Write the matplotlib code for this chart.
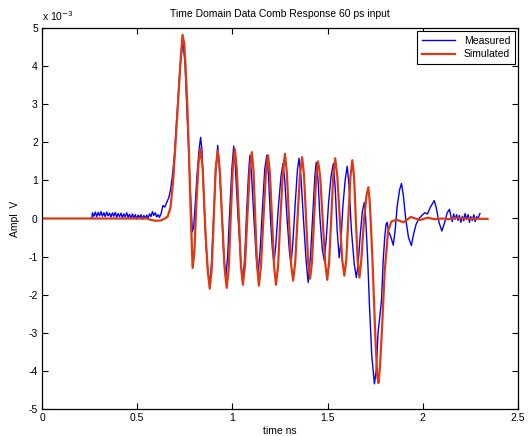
import matplotlib
matplotlib.use("Agg")
import matplotlib.pyplot as plt
from matplotlib.ticker import FuncFormatter

# measured trace, time in ns, amplitude in units of 1e-3 V
meas_t = [0.262, 0.265, 0.272, 0.28, 0.287, 0.295, 0.302, 0.31, 0.317, 0.325,
          0.332, 0.34, 0.347, 0.355, 0.362, 0.37, 0.377, 0.385, 0.392, 0.40,
          0.407, 0.415, 0.422, 0.43, 0.437, 0.445, 0.452, 0.46, 0.467, 0.475,
          0.482, 0.49, 0.497, 0.505, 0.512, 0.52, 0.527, 0.535, 0.542, 0.55,
          0.557, 0.565, 0.572, 0.58, 0.587, 0.595, 0.602, 0.61, 0.617, 0.625,
          0.635, 0.645, 0.655, 0.666, 0.675, 0.684, 0.696, 0.71, 0.724, 0.74,
          0.751, 0.758, 0.765, 0.772, 0.78, 0.79, 0.797, 0.805, 0.815, 0.825,
          0.833, 0.84, 0.85, 0.86, 0.872, 0.881, 0.89, 0.90, 0.912, 0.923,
          0.93, 0.945, 0.955, 0.965, 0.975, 0.985, 0.997, 1.007, 1.015, 1.03,
          1.045, 1.055, 1.065, 1.075, 1.085, 1.092, 1.10, 1.113, 1.125, 1.134,
          1.145, 1.158, 1.17, 1.181, 1.19, 1.20, 1.21, 1.218, 1.228, 1.24,
          1.255, 1.266, 1.275, 1.287, 1.30, 1.308, 1.318, 1.33, 1.342, 1.35,
          1.36, 1.373, 1.387, 1.398, 1.41, 1.422, 1.433, 1.44, 1.45, 1.46,
          1.472, 1.482, 1.492, 1.505, 1.518, 1.53, 1.54, 1.55, 1.561, 1.57,
          1.58, 1.592, 1.603, 1.612, 1.625, 1.64, 1.651, 1.66, 1.672, 1.683,
          1.693, 1.70, 1.71, 1.72, 1.732, 1.746, 1.755, 1.765, 1.783, 1.792,
          1.80, 1.807, 1.813, 1.82, 1.83, 1.845, 1.855, 1.865, 1.878, 1.888,
          1.898, 1.91, 1.925, 1.94, 1.952, 1.965, 1.98, 1.995, 2.01, 2.025,
          2.04, 2.06, 2.07, 2.085, 2.10, 2.115, 2.128, 2.14, 2.148, 2.155,
          2.162, 2.17, 2.178, 2.185, 2.192, 2.20, 2.208, 2.215, 2.222, 2.23,
          2.238, 2.245, 2.252, 2.26, 2.268, 2.275, 2.283, 2.29, 2.30]
meas_v = [0.02, 0.15, 0.06, 0.17, 0.05, 0.16, 0.07, 0.18, 0.06, 0.15,
          0.05, 0.17, 0.07, 0.14, 0.04, 0.15, 0.06, 0.16, 0.03, 0.13,
          0.05, 0.14, 0.02, 0.12, 0.04, 0.15, 0.03, 0.11, 0.0, 0.12,
          0.02, 0.10, -0.01, 0.09, 0.01, 0.10, -0.02, 0.08, 0.0, 0.09,
          0.01, 0.12, 0.05, 0.18, 0.08, 0.15, 0.04, 0.10, 0.03, 0.12,
          0.34, 0.30, 0.42, 0.55, 0.75, 1.08, 1.7, 2.8, 3.9, 4.66,
          4.07, 3.2, 2.4, 1.6, 0.6, -0.35, -0.2, 0.4, 1.2, 1.8,
          2.13, 1.8, 0.6, -0.6, -1.4, -1.7, -1.2, -0.1, 1.2, 1.92,
          1.5, 0.1, -1.0, -1.55, -1.0, 0.1, 1.3, 1.9, 1.4, 0.0,
          -1.2, -1.63, -1.0, 0.2, 1.2, 1.66, 1.2, 0.0, -1.0, -1.45,
          -0.9, 0.3, 1.3, 1.66, 1.1, 0.0, -0.8, -1.16, -0.7, 0.2,
          1.1, 1.44, 1.0, 0.0, -0.9, -1.19, -0.6, 0.4, 1.3, 1.58,
          1.1, 0.0, -1.1, -1.68, -1.0, 0.1, 1.1, 1.47, 1.0, 0.0,
          -0.8, -1.1, -0.6, 0.4, 1.1, 1.44, 0.8, -0.3, -1.03, -0.6,
          0.3, 1.0, 1.37, 0.9, -0.3, -1.2, -1.55, -1.2, -0.4, 0.2,
          0.42, 0.0, -1.0, -2.3, -3.6, -4.34, -4.0, -3.0, -2.16, -1.1,
          -0.5, -0.15, -0.1, -0.35, -0.45, -0.7, -0.3, 0.3, 0.75, 0.92,
          0.6, 0.0, -0.5, -0.71, -0.4, -0.15, 0.0, 0.08, 0.15, 0.12,
          0.3, 0.47, 0.3, -0.1, -0.33, -0.1, 0.15, 0.24, 0.05, -0.08,
          0.12, -0.02, 0.10, -0.05, 0.08, -0.10, 0.06, -0.06, 0.13, -0.02,
          0.10, -0.10, 0.05, -0.05, 0.10, -0.08, 0.05, 0.0, 0.13]

# simulated trace
sim_t = [0.0, 0.55, 0.575, 0.60, 0.625, 0.645, 0.66, 0.675, 0.689, 0.70,
         0.714, 0.728, 0.738, 0.747, 0.754, 0.763, 0.772, 0.78, 0.791, 0.80,
         0.811, 0.822, 0.833, 0.844, 0.857, 0.870, 0.881, 0.892, 0.902, 0.912,
         0.923, 0.934, 0.946, 0.959, 0.970, 0.981, 0.991, 1.002, 1.013, 1.023,
         1.034, 1.045, 1.055, 1.066, 1.078, 1.091, 1.102, 1.111, 1.120, 1.130,
         1.139, 1.150, 1.163, 1.176, 1.187, 1.197, 1.208, 1.219, 1.229, 1.240,
         1.252, 1.265, 1.276, 1.286, 1.297, 1.308, 1.319, 1.330, 1.342, 1.355,
         1.366, 1.376, 1.387, 1.398, 1.408, 1.418, 1.429, 1.440, 1.450, 1.461,
         1.474, 1.487, 1.498, 1.508, 1.519, 1.530, 1.540, 1.551, 1.564, 1.577,
         1.588, 1.598, 1.609, 1.620, 1.630, 1.639, 1.648, 1.658, 1.667, 1.677,
         1.690, 1.704, 1.714, 1.722, 1.735, 1.750, 1.760, 1.767, 1.775, 1.786,
         1.800, 1.818, 1.835, 1.862, 1.897, 1.937, 1.985, 2.025, 2.064, 2.100,
         2.134, 2.170, 2.220, 2.340]
sim_v = [0.0, 0.0, -0.04, -0.06, -0.05, 0.0, 0.05, 0.29, 1.0, 1.87,
         3.0, 4.16, 4.82, 4.6, 4.0, 3.0, 1.7, 0.3, -1.3, -0.9,
         0.4, 1.45, 1.84, 1.3, -0.2, -1.35, -1.84, -1.3, 0.0, 1.3,
         1.78, 1.25, 0.0, -1.3, -1.82, -1.3, 0.0, 1.3, 1.82, 1.3,
         0.0, -1.25, -1.74, -1.25, 0.0, 1.25, 1.74, 1.25, 0.0, -1.25,
         -1.76, -1.25, 0.0, 1.2, 1.66, 1.2, 0.0, -1.25, -1.74, -1.25,
         0.0, 1.2, 1.70, 1.2, 0.0, -1.2, -1.63, -1.15, 0.0, 1.15,
         1.61, 1.15, 0.0, -1.15, -1.58, -1.15, 0.0, 1.1, 1.50, 1.1,
         0.0, -1.15, -1.61, -1.15, 0.0, 1.15, 1.58, 1.1, 0.0, -1.1,
         -1.50, -1.1, 0.0, 1.1, 1.53, 1.1, 0.0, -1.1, -1.55, -1.1,
         -0.1, 0.6, 0.82, 0.4, -1.0, -3.0, -4.1, -4.32, -3.9, -2.87,
         -1.37, -0.32, -0.08, -0.03, -0.1, 0.04, -0.04, 0.02, -0.02, 0.0,
         -0.02, 0.02, 0.0, -0.01]

plt.rcParams['font.family'] = ['Liberation Sans', 'DejaVu Sans']
fs = 7.5

fig = plt.figure(figsize=(5.31, 4.36), dpi=100)
ax = fig.add_axes([42 / 531, 27 / 436, 476 / 531, 381 / 436])

ax.plot(meas_t, [v * 1e-3 for v in meas_v], color='#0000ff', lw=1.0, label='Measured')
ax.plot(sim_t, [v * 1e-3 for v in sim_v], color='#dd3a12', lw=1.6, label='Simulated',
        solid_joinstyle='round')

ax.set_xlim(0, 2.5)
ax.set_ylim(-5e-3, 5e-3)
ax.set_xticks([0, 0.5, 1, 1.5, 2, 2.5])
ax.set_xticklabels(['0', '0.5', '1', '1.5', '2', '2.5'])
ax.set_yticks([i * 1e-3 for i in range(-5, 6)])
ax.yaxis.set_major_formatter(FuncFormatter(lambda v, p: '%d' % round(v * 1e3)))
ax.tick_params(direction='in', top=True, right=True, length=4, width=0.8,
               labelsize=fs, pad=3)
for s in ax.spines.values():
    s.set_linewidth(0.9)

ax.text(0, 1.012, 'x 10$^{-3}$', transform=ax.transAxes, fontsize=fs,
        ha='left', va='bottom')
ax.set_title('Time Domain Data Comb Response 60 ps input', fontsize=fs, pad=8)
ax.set_xlabel('time ns', fontsize=fs, labelpad=2)
ax.set_ylabel('Ampl  V', fontsize=fs, labelpad=6)

leg = ax.legend(loc='upper right', fontsize=fs, fancybox=False, framealpha=1,
                edgecolor='black', borderaxespad=0.3, handlelength=3.2,
                borderpad=0.45, labelspacing=0.35)
leg.get_frame().set_linewidth(0.8)

fig.savefig('out.png', dpi=100)
